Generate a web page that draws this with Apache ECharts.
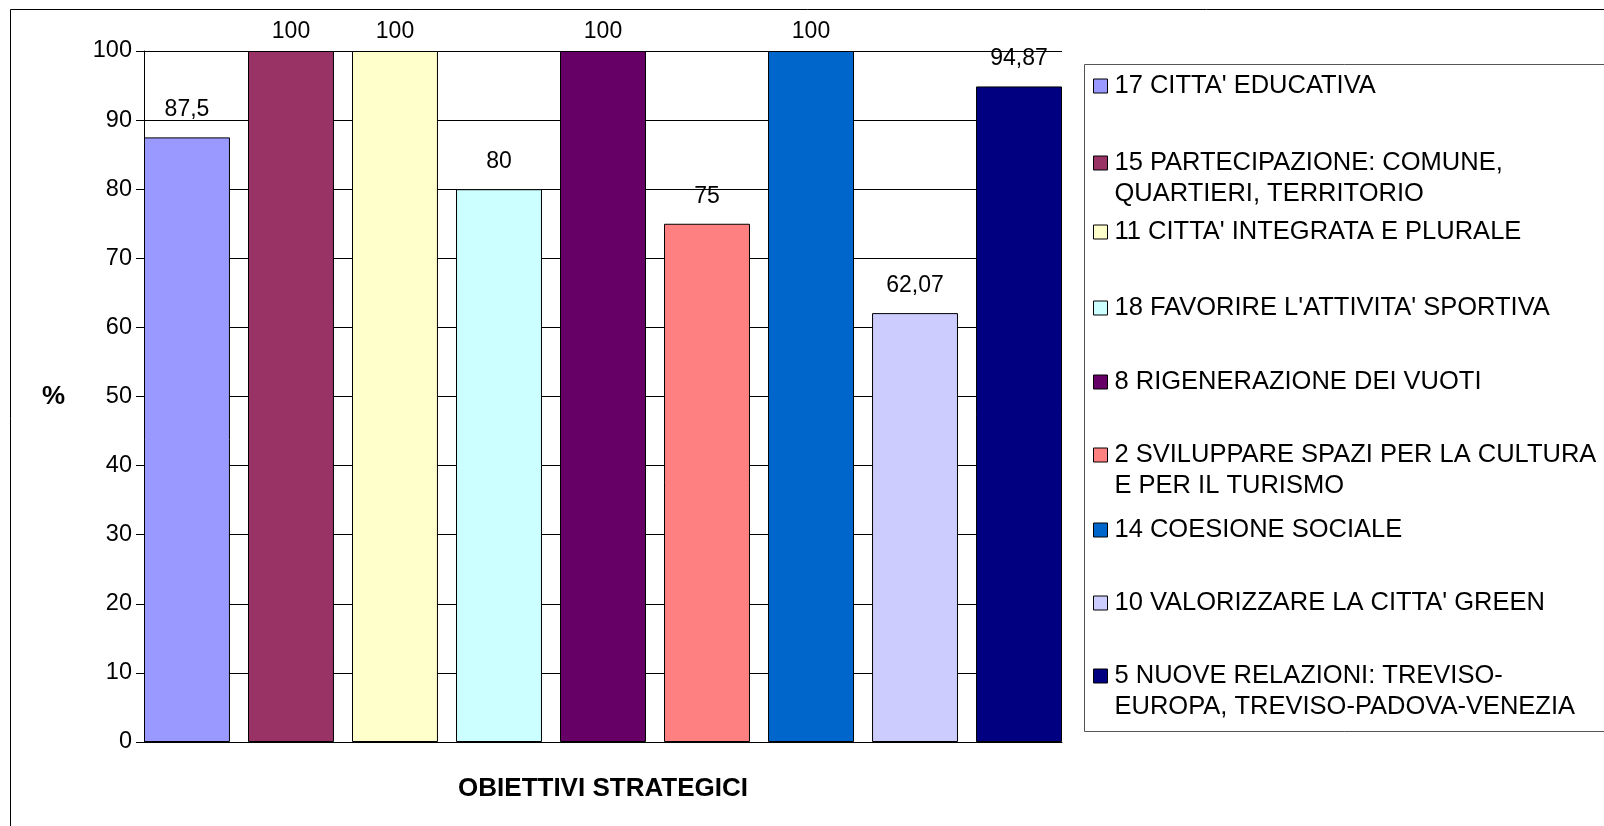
<!DOCTYPE html>
<html>
<head>
<meta charset="utf-8">
<script src="https://cdn.jsdelivr.net/npm/echarts@6/dist/echarts.min.js"></script>
<style>
  html, body { margin: 0; padding: 0; background: #fff; }
  #chart { width: 1604px; height: 826px; }
</style>
</head>
<body>
<div id="chart"></div>
<script>
// dati del grafico
const categories = ['']
const seriesNames = [
  "17 CITTA' EDUCATIVA",
  '15 PARTECIPAZIONE: COMUNE,\nQUARTIERI, TERRITORIO',
  "11 CITTA' INTEGRATA E PLURALE",
  "18 FAVORIRE L'ATTIVITA' SPORTIVA",
  '8 RIGENERAZIONE DEI VUOTI',
  '2 SVILUPPARE SPAZI PER LA CULTURA\nE PER IL TURISMO',
  '14 COESIONE SOCIALE',
  "10 VALORIZZARE LA CITTA' GREEN",
  '5 NUOVE RELAZIONI: TREVISO-\nEUROPA, TREVISO-PADOVA-VENEZIA'
]
const percentages = [87.5, 100, 100, 80, 100, 75, 100, 62.07, 94.87]
const yMin = 0
const yMax = 100
const yStep = 10
const yAxisTitle = '%'
const xAxisTitle = 'OBIETTIVI STRATEGICI'

// stile
const palette = ['#9999FF', '#993366', '#FFFFCC', '#CCFFFF', '#660066', '#FF8080', '#0066CC', '#CCCCFF', '#000080']
const legendRowY = [86, 163, 232, 308, 382, 455, 530, 603, 676]
const font = "'Liberation Sans', Arial, sans-serif"

const chart = echarts.init(document.getElementById('chart'))

const series = seriesNames.map((name, i) => ({
  name: name,
  type: 'bar',
  data: [percentages[i]],
  barGap: '21%',
  barCategoryGap: '0%',
  itemStyle: { color: palette[i], borderColor: '#000', borderWidth: 1 },
  label: {
    show: true,
    position: 'top',
    distance: percentages[i] >= 100 ? 8 : 16,
    color: '#000',
    fontSize: 23,
    fontFamily: font,
    formatter: p => String(p.value).replace('.', ',')
  }
}))

const legends = seriesNames.map((name, i) => {
  const twoLines = name.indexOf('\n') >= 0
  const lh = 31
  return {
    orient: 'vertical',
    left: 1093,
    top: legendRowY[i] - (twoLines ? lh * 1.5 : lh / 2),
    padding: 0,
    itemWidth: 14,
    itemHeight: 14,
    itemGap: 0,
    selectedMode: false,
    data: [name],
    icon: 'rect',
    itemStyle: { borderColor: '#000', borderWidth: 1 },
    formatter: n => (n.indexOf('\n') >= 0 ? '\n' + n : n),
    textStyle: { fontSize: 25.5, fontFamily: font, color: '#000', lineHeight: lh, padding: [0, 0, 0, 2] }
  }
})

const option = {
  animation: false,
  backgroundColor: '#fff',
  color: palette,
  grid: { left: 144, top: 51, right: 542, bottom: 84 },
  xAxis: {
    type: 'category',
    data: categories,
    name: xAxisTitle,
    nameLocation: 'middle',
    nameGap: 34,
    nameTextStyle: { fontSize: 26, fontWeight: 'bold', fontFamily: font, color: '#000' },
    axisLine: { lineStyle: { color: '#000', width: 1 } },
    axisTick: { show: false },
    axisLabel: { show: false }
  },
  yAxis: {
    type: 'value',
    min: yMin,
    max: yMax,
    interval: yStep,
    name: yAxisTitle,
    nameLocation: 'middle',
    nameRotate: 0,
    nameGap: 79,
    nameTextStyle: { fontSize: 26, fontWeight: 'bold', fontFamily: font, color: '#000' },
    axisLine: { show: true, lineStyle: { color: '#000', width: 1 } },
    axisTick: { show: true, length: 8, lineStyle: { color: '#000' } },
    axisLabel: { fontSize: 23.5, fontFamily: font, color: '#000', margin: 12 },
    splitLine: { show: true, lineStyle: { color: '#000', width: 1 } }
  },
  legend: legends,
  graphic: [
    {
      type: 'rect',
      shape: { x: 10.5, y: 9.5, width: 1700, height: 900 },
      style: { fill: 'none', stroke: '#000', lineWidth: 1 },
      silent: true
    },
    {
      type: 'rect',
      shape: { x: 1084.5, y: 64.5, width: 600, height: 667 },
      style: { fill: 'none', stroke: '#555', lineWidth: 1 },
      silent: true
    }
  ],
  series: series
}

chart.setOption(option)
</script>
</body>
</html>
